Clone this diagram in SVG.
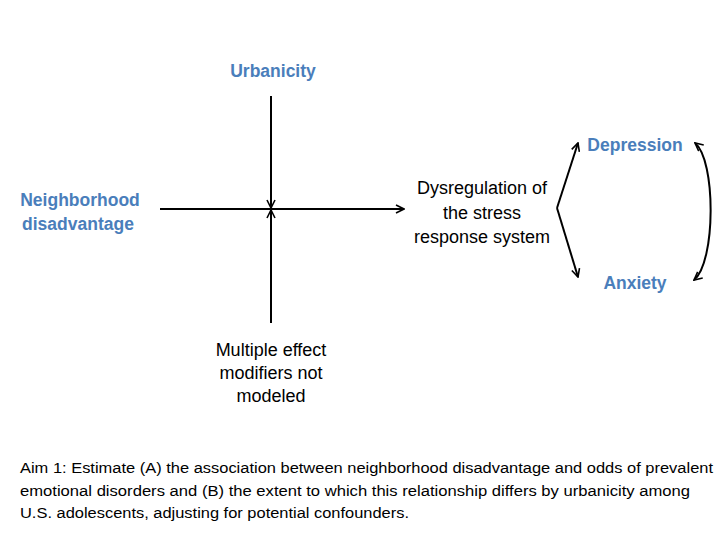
<svg xmlns="http://www.w3.org/2000/svg" width="720" height="540" viewBox="0 0 720 540">
<defs>
<marker id="arr" viewBox="0 0 10 10" refX="9" refY="5" markerWidth="10" markerHeight="10" markerUnits="userSpaceOnUse" orient="auto-start-reverse">
<polyline points="1,1 9,5 1,9" fill="none" stroke="#000" stroke-width="1.6"/>
</marker>
<style>
.lbl{font-family:"Liberation Sans",Arial,sans-serif;font-weight:bold;fill:#4a7ebb;font-size:17.5px;text-anchor:middle}
.txt{font-family:"Liberation Sans",Arial,sans-serif;fill:#000;font-size:18px;text-anchor:middle}
.cap{font-family:"Liberation Sans",Arial,sans-serif;fill:#000;font-size:15.5px}
.ln{stroke:#000;stroke-width:2;fill:none}
</style>
</defs>
<rect width="720" height="540" fill="#fff"/>
<g id="connectors">
<line class="ln" x1="160" y1="209" x2="404" y2="209" marker-end="url(#arr)"/>
<line class="ln" x1="271" y1="96" x2="271" y2="208" marker-end="url(#arr)"/>
<line class="ln" x1="271" y1="323" x2="271" y2="210" marker-end="url(#arr)"/>
<path class="ln" d="M557,208 L578,143" marker-end="url(#arr)"/>
<path class="ln" d="M557,208 L578,277" marker-end="url(#arr)"/>
<path class="ln" d="M695,143 C716,160 716,262 694,280" marker-start="url(#arr)" marker-end="url(#arr)"/>
</g>
<g id="urbanicity"><text class="lbl" x="273" y="77">Urbanicity</text></g>
<g id="neighborhood"><text class="lbl" x="80" y="206">Neighborhood</text><text class="lbl" x="78" y="230">disadvantage</text></g>
<g id="dysregulation"><text class="txt" x="482" y="194">Dysregulation of</text><text class="txt" x="482" y="219">the stress</text><text class="txt" x="482" y="243">response system</text></g>
<g id="depression"><text class="lbl" x="635" y="151">Depression</text></g>
<g id="anxiety"><text class="lbl" x="635" y="289">Anxiety</text></g>
<g id="modifiers"><text class="txt" x="271" y="356">Multiple effect</text><text class="txt" x="271" y="379">modifiers not</text><text class="txt" x="271" y="402">modeled</text></g>
<g id="caption">
<text class="cap" x="20" y="473" textLength="693" lengthAdjust="spacingAndGlyphs">Aim 1: Estimate (A) the association between neighborhood disadvantage and odds of prevalent</text>
<text class="cap" x="20" y="496" textLength="670" lengthAdjust="spacingAndGlyphs">emotional disorders and (B) the extent to which this relationship differs by urbanicity among</text>
<text class="cap" x="20" y="518" textLength="389" lengthAdjust="spacingAndGlyphs">U.S. adolescents, adjusting for potential confounders.</text>
</g>
</svg>
